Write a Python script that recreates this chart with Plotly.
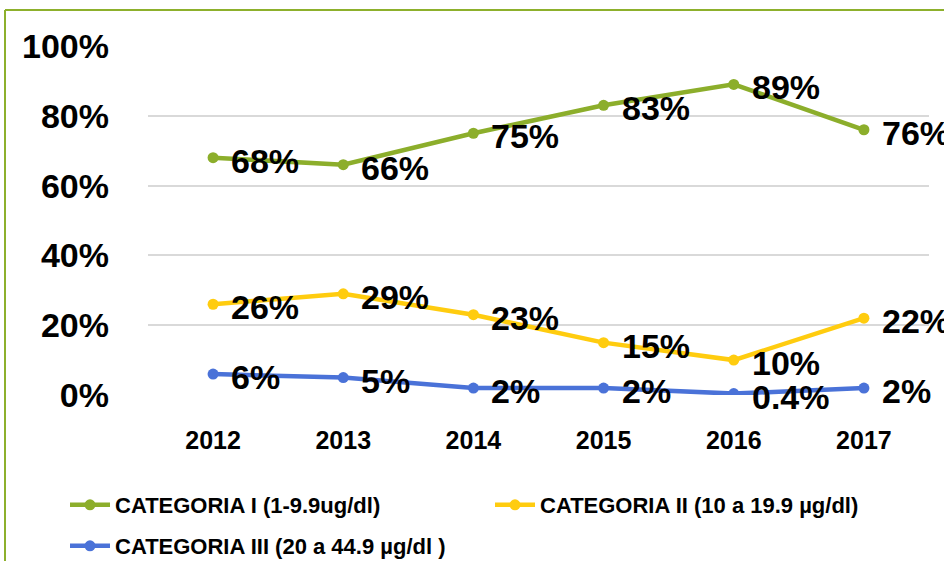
import plotly.graph_objects as go

years = ["2012", "2013", "2014", "2015", "2016", "2017"]
cat1 = [0.68, 0.66, 0.75, 0.83, 0.89, 0.76]
cat2 = [0.26, 0.29, 0.23, 0.15, 0.10, 0.22]
cat3 = [0.06, 0.05, 0.02, 0.02, 0.004, 0.02]
labels1 = ["68%", "66%", "75%", "83%", "89%", "76%"]
labels2 = ["26%", "29%", "23%", "15%", "10%", "22%"]
labels3 = ["6%", "5%", "2%", "2%", "0.4%", "2%"]
names = ["CATEGORIA I (1-9.9ug/dl)", "CATEGORIA II (10 a 19.9 µg/dl)", "CATEGORIA III (20 a 44.9 µg/dl )"]
colors = ["#8CAE2B", "#FFCC0F", "#4A72D8"]
legends = ["legend", "legend", "legend2"]
ytickvals = [0, 0.2, 0.4, 0.6, 0.8, 1.0]
yticktext = ["0%", "20%", "40%", "60%", "80%", "100%"]

FONT = "Liberation Sans"

fig = go.Figure()
annotations = []
for vals, labs, name, col, lg in zip([cat1, cat2, cat3], [labels1, labels2, labels3], names, colors, legends):
    fig.add_trace(go.Scatter(
        x=years, y=vals, name=name, mode="lines+markers",
        line=dict(color=col, width=4.5),
        marker=dict(color=col, size=11),
        legend=lg,
    ))
    for i, (yv, t) in enumerate(zip(vals, labs)):
        annotations.append(dict(
            x=i, y=yv, text=t, xref="x", yref="y", showarrow=False,
            xanchor="left", yanchor="middle", xshift=16, yshift=-3,
            font=dict(family=FONT, size=34, color="#000000", weight="bold"),
        ))

W, H = 944, 561
L, R, T, B = 148, 15, 46, 166
pw = W - L - R
ph = H - T - B

def px_x(px):
    return (px - L) / pw

def px_y(py):
    return (H - B - py) / ph

border = "#8DB02C"
shapes = [
    dict(type="line", xref="paper", yref="paper", x0=px_x(5), x1=px_x(5), y0=px_y(561), y1=px_y(10),
         line=dict(color=border, width=2)),
    dict(type="line", xref="paper", yref="paper", x0=px_x(5), x1=px_x(944), y0=px_y(10), y1=px_y(10),
         line=dict(color=border, width=2)),
]

legfont = dict(family=FONT, size=22, color="#000000", weight="bold")

fig.update_layout(
    width=W, height=H,
    margin=dict(l=L, r=R, t=T, b=B, autoexpand=False),
    paper_bgcolor="white", plot_bgcolor="white",
    font=dict(family=FONT, color="#000000"),
    annotations=annotations,
    shapes=shapes,
    showlegend=True,
    legend=dict(
        orientation="h", x=px_x(65), xanchor="left", y=px_y(505), yanchor="middle",
        font=legfont, entrywidth=370, entrywidthmode="pixels",
        itemwidth=40, bgcolor="rgba(0,0,0,0)",
    ),
    legend2=dict(
        orientation="h", x=px_x(65), xanchor="left", y=px_y(546), yanchor="middle",
        font=legfont, itemwidth=40, bgcolor="rgba(0,0,0,0)",
    ),
    xaxis=dict(
        type="category", range=[-0.5, 5.5], showgrid=False, zeroline=False,
        showline=False, ticks="",
        tickfont=dict(family=FONT, size=25, color="#000000", weight="bold"),
        ticklabelstandoff=28,
    ),
    yaxis=dict(
        range=[0, 1.0], tickvals=ytickvals, ticktext=yticktext,
        showgrid=True, gridcolor="#D9D9D9", gridwidth=1.5, zeroline=False,
        showline=False, ticks="",
        tickfont=dict(family=FONT, size=34, color="#000000", weight="bold"),
        ticklabelstandoff=38,
    ),
)

fig.write_html("out.html", config={"displayModeBar": False},
               post_script="document.body.style.margin='0';document.body.style.overflow='hidden';")
